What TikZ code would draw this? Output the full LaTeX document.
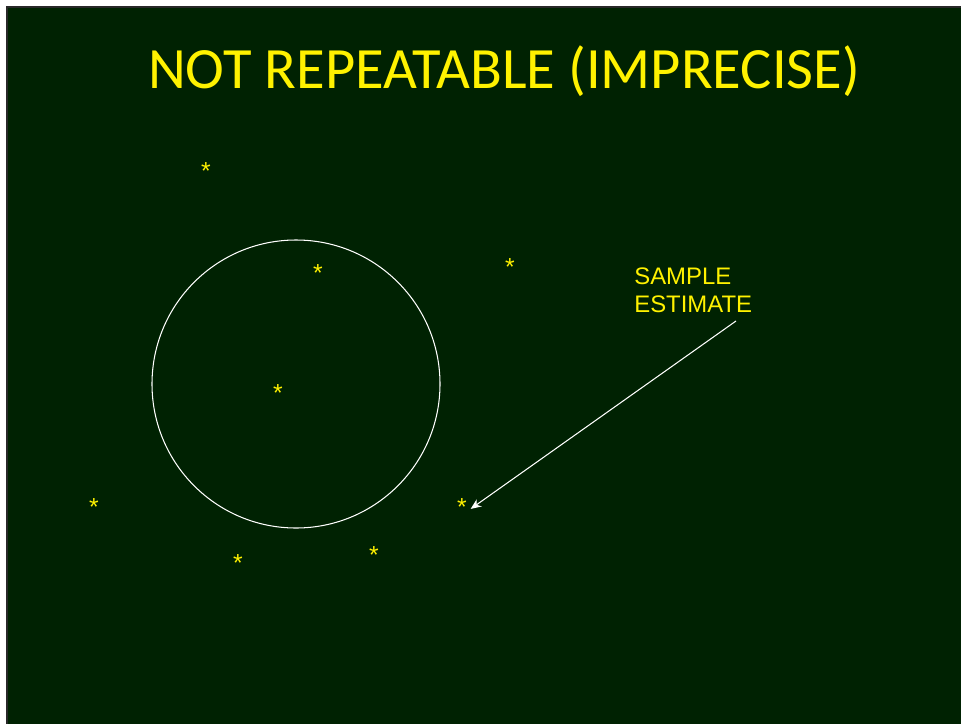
\documentclass[tikz,border=0pt]{standalone}
\usepackage{fontspec}
\usepackage{xcolor}
\usetikzlibrary{arrows.meta}
\newfontfamily\titlefont{Carlito}
\newfontfamily\labelfont{Liberation Sans}
\definecolor{board}{RGB}{0,34,2}
\definecolor{rim}{RGB}{40,40,40}

\begin{document}
\begin{tikzpicture}[x=0.02cm,y=-0.02cm,
  pt/.style={text=yellow,font=\labelfont\fontsize{14}{14}\selectfont,inner sep=2pt,text height=0.72em,text depth=-0.43em,yshift=-2.8pt}]
\useasboundingbox(0,0)rectangle(961,724);
\fill[white](0,0)rectangle(961,724);
\fill[rim](6,6)rectangle(961,724);
\fill[board](8,8)rectangle(961,724);
\node[text=yellow,font=\titlefont\fontsize{33.3}{36}\selectfont,anchor=base](title)at(504,88){NOT REPEATABLE (IMPRECISE)};
\draw[white,line width=0.6pt](296,384)circle[radius=144];
% sample points
\node[pt](s1)at(206,168){*};
\node[pt](s2)at(318,270){*};
\node[pt](s3)at(510,264){*};
\node[pt](s4)at(278,390){*};
\node[pt](s5)at(94,504){*};
\node[pt](s6)at(462,504){*};
\node[pt](s7)at(238,560){*};
\node[pt](s8)at(374,552){*};
\node[text=yellow,font=\labelfont\fontsize{13.6}{16.4}\selectfont,align=left,anchor=north west,inner sep=0pt](est)at(634,267){SAMPLE\\ESTIMATE};
\coordinate(tail)at(736,321);
\draw[-{Stealth[length=6pt,width=5pt]},white,line width=0.6pt](tail)--(s6.east);
\end{tikzpicture}
\end{document}
